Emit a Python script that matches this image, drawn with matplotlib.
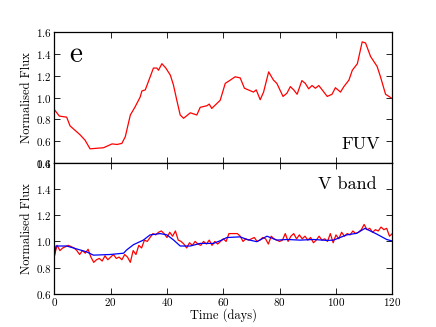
import matplotlib
matplotlib.use("Agg")
import matplotlib.pyplot as plt

plt.rcParams["font.family"] = "serif"
plt.rcParams["font.serif"] = ["cmr10", "DejaVu Serif"]
plt.rcParams["mathtext.fontset"] = "cm"
plt.rcParams["axes.formatter.use_mathtext"] = True

# FUV light curve (smooth)
t_fuv = [0, 1.8, 4.4, 5.6, 9.1, 10.9, 12.7, 15.1, 17.5, 20.5, 22.3, 24.0, 25.2,
         27.0, 28.7, 30.5, 31.1, 32.3, 35.2, 36.4, 37.0, 38.2, 39.6, 41.2, 42.3,
         43.5, 44.7, 45.9, 48.3, 50.6, 51.8, 54.2, 55.0, 55.9, 57.7, 58.9, 60.7,
         62.5, 64.2, 66.0, 67.5, 70.7, 71.7, 73.1, 74.3, 76.1, 77.8, 79.0, 81.2,
         82.6, 83.8, 85.0, 86.2, 87.9, 89.1, 90.3, 91.5, 92.7, 93.9, 96.9, 98.6,
         99.8, 101.6, 102.8, 104.6, 105.8, 107.6, 109.3, 110.5, 112.3, 114.6,
         115.8, 117.6, 118.8, 120]
f_fuv = [0.89, 0.83, 0.82, 0.74, 0.66, 0.61, 0.53, 0.535, 0.54, 0.575, 0.57,
         0.58, 0.64, 0.84, 0.915, 1.005, 1.06, 1.07, 1.27, 1.27, 1.25, 1.31,
         1.27, 1.205, 1.115, 0.975, 0.84, 0.81, 0.86, 0.84, 0.91, 0.925, 0.94,
         0.90, 0.945, 0.975, 1.13, 1.16, 1.19, 1.18, 1.085, 1.05, 1.07, 0.98,
         1.05, 1.235, 1.16, 1.13, 1.01, 1.04, 1.10, 1.07, 1.03, 1.155, 1.13,
         1.08, 1.11, 1.085, 1.11, 1.01, 1.03, 1.09, 1.05, 1.10, 1.16, 1.25,
         1.31, 1.51, 1.50, 1.375, 1.285, 1.19, 1.03, 1.01, 0.99]

# V band: observed (red) and smoothed model (blue)
t_v = [0, 1, 2, 3, 4, 5, 6, 7, 8, 9, 10, 11, 12, 13, 14, 15, 16, 17, 18, 19,
       20, 21, 22, 23, 24, 25, 26, 27, 28, 29, 30, 31, 32, 33, 34, 35, 36, 37,
       38, 39, 40, 41, 42, 43, 44, 45, 46, 47, 48, 49, 50, 51, 52, 53, 54, 55,
       56, 57, 58, 59, 60, 61, 62, 63, 64, 65, 66, 67, 68, 69, 70, 71, 72, 73,
       74, 75, 76, 77, 78, 79, 80, 81, 82, 83, 84, 85, 86, 87, 88, 89, 90, 91,
       92, 93, 94, 95, 96, 97, 98, 99, 100, 101, 102, 103, 104, 105, 106, 107,
       108, 109, 110, 111, 112, 113, 114, 115, 116, 117, 118, 119, 120]
f_v = [0.89, 0.97, 0.93, 0.95, 0.96, 0.97, 0.96, 0.95, 0.93, 0.90, 0.93, 0.91,
       0.94, 0.88, 0.84, 0.86, 0.87, 0.85, 0.89, 0.86, 0.88, 0.90, 0.87, 0.88,
       0.86, 0.90, 0.88, 0.84, 0.93, 0.90, 0.97, 0.95, 1.01, 1.00, 1.03, 1.06,
       1.05, 1.07, 1.08, 1.06, 1.03, 1.07, 1.04, 1.08, 1.01, 1.00, 0.98, 0.95,
       0.99, 0.97, 1.00, 0.98, 0.97, 1.00, 0.98, 1.01, 0.97, 1.00, 0.98, 1.00,
       1.02, 1.00, 1.06, 1.06, 1.06, 1.06, 1.04, 1.00, 1.02, 1.01, 1.02, 1.03,
       1.00, 1.01, 1.03, 1.02, 0.98, 1.04, 1.02, 1.01, 1.00, 1.01, 1.06, 1.00,
       1.04, 1.06, 1.02, 1.05, 1.02, 1.04, 1.01, 1.03, 0.99, 1.01, 1.04, 1.01,
       1.02, 1.00, 1.06, 0.99, 1.05, 1.02, 1.07, 1.04, 1.06, 1.05, 1.08, 1.06,
       1.07, 1.09, 1.13, 1.09, 1.10, 1.07, 1.09, 1.08, 1.11, 1.09, 1.10, 1.04,
       1.06]
t_model = [0, 0.6, 4.4, 11.5, 13.9, 19.8, 24.6, 25.7, 28.1, 31.6, 34.0, 37.6,
           40.0, 42.4, 44.7, 48.3, 51.8, 56.5, 58.9, 61.3, 66.0, 68.4, 71.9,
           75.5, 79.0, 82.6, 87.3, 92.0, 96.7, 99.1, 103.8, 107.3, 110.3,
           114.4, 118.0, 120]
f_model = [0.88, 0.965, 0.965, 0.92, 0.895, 0.90, 0.91, 0.935, 0.975, 1.01,
           1.05, 1.06, 1.05, 1.01, 0.965, 0.965, 0.985, 0.985, 1.005, 1.03,
           1.035, 1.015, 0.998, 1.04, 1.01, 1.015, 1.01, 1.015, 1.008, 1.01,
           1.05, 1.062, 1.10, 1.057, 1.015, 1.003]

fig = plt.figure(figsize=(4.36, 3.27), dpi=100)
ax1 = fig.add_axes([0.1245, 0.5015, 0.7753, 0.4005])
ax2 = fig.add_axes([0.1245, 0.1018, 0.7753, 0.3997])

ax1.plot(t_fuv, f_fuv, color="red", lw=0.9)
ax1.set_xlim(0, 120)
ax1.set_ylim(0.4, 1.6)
ax1.set_yticks([0.4, 0.6, 0.8, 1.0, 1.2, 1.4, 1.6])
ax1.set_xticks([0, 20, 40, 60, 80, 100, 120])
ax1.set_xticklabels([])
ax1.set_ylabel("Normalised Flux", fontsize=9, labelpad=2)
ax1.text(0.045, 0.77, "e", transform=ax1.transAxes, fontsize=21)
ax1.text(0.965, 0.11, "FUV", transform=ax1.transAxes, fontsize=13, ha="right")

ax2.plot(t_v, f_v, color="red", lw=0.9)
ax2.plot(t_model, f_model, color="blue", lw=0.9)
ax2.set_xlim(0, 120)
ax2.set_ylim(0.6, 1.6)
ax2.set_yticks([0.6, 0.8, 1.0, 1.2, 1.4, 1.6])
ax2.set_xticks([0, 20, 40, 60, 80, 100, 120])
ax2.set_xlabel("Time (days)", fontsize=9, labelpad=0)
ax2.set_ylabel("Normalised Flux", fontsize=9, labelpad=2)
ax2.text(0.955, 0.80, "V band", transform=ax2.transAxes, fontsize=13, ha="right")

for ax in (ax1, ax2):
    ax.tick_params(direction="in", top=True, right=True, labelsize=8,
                   length=4, width=0.6, pad=2)
    for s in ax.spines.values():
        s.set_linewidth(0.9)

fig.savefig("out.png", dpi=100)
